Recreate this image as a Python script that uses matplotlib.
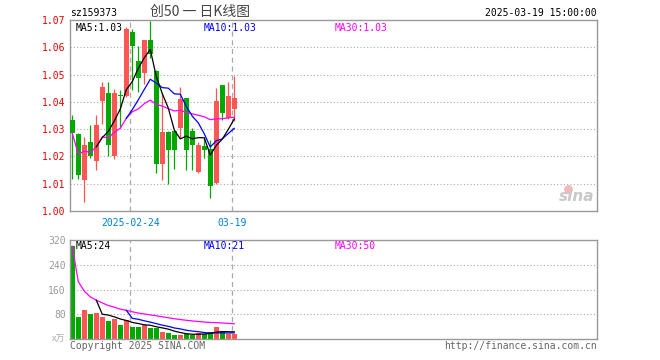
#!/usr/bin/env python3
"""Daily K-line chart for sz159373 with moving averages and volume."""

import matplotlib

matplotlib.use("Agg")
import matplotlib.pyplot as plt
import numpy as np
import pandas as pd


CODE = "sz159373"
TITLE = "创50 一 日K线图"
STAMP = "2025-03-19 15:00:00"

opens = [1.0334, 1.0283, 1.0115, 1.0254, 1.0184, 1.0402, 1.0433, 1.0202, 1.0425, 1.0423,
         1.0657, 1.0548, 1.0505, 1.0625, 1.0513, 1.0173, 1.0291, 1.0292, 1.0303, 1.0413,
         1.0293, 1.0144, 1.0240, 1.0228, 1.0102, 1.0463, 1.0341, 1.0375]
closes = [1.0285, 1.0132, 1.0241, 1.0202, 1.0315, 1.0456, 1.0243, 1.0433, 1.0422, 1.0667,
          1.0606, 1.0487, 1.0625, 1.0575, 1.0173, 1.0291, 1.0223, 1.0224, 1.0410, 1.0224,
          1.0243, 1.0243, 1.0222, 1.0092, 1.0402, 1.0358, 1.0422, 1.0413]
highs = [1.0352, 1.0285, 1.0273, 1.0317, 1.0351, 1.0474, 1.0472, 1.0448, 1.0444, 1.0673,
         1.0667, 1.0604, 1.0627, 1.0695, 1.0515, 1.0432, 1.0293, 1.0293, 1.0454, 1.0415,
         1.0305, 1.0254, 1.0268, 1.0261, 1.0451, 1.0463, 1.0474, 1.0495]
lows = [1.0116, 1.0117, 1.0032, 1.0193, 1.0151, 1.0318, 1.0200, 1.0190, 1.0305, 1.0418,
        1.0445, 1.0436, 1.0466, 1.0560, 1.0140, 1.0112, 1.0099, 1.0155, 1.0269, 1.0152,
        1.0151, 1.0141, 1.0195, 1.0048, 1.0100, 1.0333, 1.0338, 1.0330]
volumes = [299.5, 72.5, 93.8, 80.8, 84.3, 72.5, 58.8, 65.8, 45.8, 60.8,
           40.8, 40.8, 45.8, 38.0, 36.5, 23.0, 20.5, 14.0, 15.0, 17.8,
           14.0, 21.0, 17.8, 23.5, 39.5, 22.8, 17.8, 17.0]

date_ticks = [10, 27]
date_labels = ["2025-02-24", "03-19"]
price_ticks = [1.00, 1.01, 1.02, 1.03, 1.04, 1.05, 1.06, 1.07]
vol_ticks = [80, 160, 240, 320]

RED = "#FF5555"
GREEN = "#00A800"
FRAME = "#999999"
GRID = "#AAAAAA"
MONO = "DejaVu Sans Mono"
CJK = ["Noto Sans CJK SC", "DejaVu Sans"]


def ma_lines(values):
  s = pd.Series(values)
  return (s.rolling(5).mean(), s.rolling(10).mean(),
          s.rolling(30, min_periods=1).mean())


def frame(ax):
  for sp in ax.spines.values():
    sp.set_color(FRAME)
    sp.set_linewidth(1.0)
  ax.tick_params(length=0, pad=3)
  ax.set_xticks([])
  for d in date_ticks:
    ax.axvline(d - 0.33, color=GRID, lw=0.9, ls=(0, (4, 3)), zorder=0)


def main():
  plt.rcParams["font.family"] = MONO
  fig = plt.figure(figsize=(6.6, 3.6), dpi=100)
  ax = fig.add_axes([70 / 660, 1 - 211 / 360, 527 / 660, 191 / 360])
  av = fig.add_axes([70 / 660, 1 - 339.3 / 360, 527 / 660, 99.3 / 360])

  xs = np.arange(len(closes))
  o = np.array(opens)
  c = np.array(closes)
  up = c >= o
  colors = [RED if u else GREEN for u in up]
  xlim = (-0.38, -0.38 + 527 / 6)

  # price pane
  frame(ax)
  ax.set_xlim(*xlim)
  ax.set_ylim(1.00, 1.07)
  ax.set_yticks(price_ticks)
  ax.set_yticklabels([f"{t:.2f}" for t in price_ticks], color="#EE0000", fontsize=7)
  for t in price_ticks[1:-1]:
    ax.axhline(t, color=GRID, lw=0.8, ls=(0, (1, 2)), zorder=0)
  ax.vlines(xs, lows, highs, colors=colors, lw=0.9, zorder=2)
  bottoms = np.minimum(o, c)
  heights = np.maximum(np.abs(c - o), 0.00012)
  ax.bar(xs, heights, bottom=bottoms, width=0.82, color=colors, zorder=3)
  ma5, ma10, ma30 = ma_lines(closes)
  ax.plot(xs, ma30, color="#FF00FF", lw=0.9, zorder=4)
  ax.plot(xs, ma10, color="#0000FF", lw=0.9, zorder=4)
  ax.plot(xs, ma5, color="black", lw=0.9, zorder=4)
  ax.text(0.01, 0.985, f"MA5:{ma5.iloc[-1]:.2f}", transform=ax.transAxes,
          ha="left", va="top", fontsize=7, color="black")
  ax.text(134 / 527, 0.985, f"MA10:{ma10.iloc[-1]:.2f}", transform=ax.transAxes,
          ha="left", va="top", fontsize=7, color="#0000FF")
  ax.text(265 / 527, 0.985, f"MA30:{ma30.iloc[-1]:.2f}", transform=ax.transAxes,
          ha="left", va="top", fontsize=7, color="#FF00FF")
  for d, lab in zip(date_ticks, date_labels):
    ax.text(d - 0.33, -0.035, lab, transform=ax.get_xaxis_transform(),
            ha="center", va="top", fontsize=7, color="#0080D0")
  ax.text(0.995, 0.075, "sina", transform=ax.transAxes, ha="right", va="center",
          fontsize=11, fontweight="bold", style="italic", color="#C8C8C8",
          family="DejaVu Sans")
  ax.scatter([0.945], [0.115], s=28, transform=ax.transAxes, color="#F4B8B8",
             zorder=1, clip_on=False)

  # volume pane
  frame(av)
  av.set_xlim(*xlim)
  av.set_ylim(0, 320)
  av.set_yticks(vol_ticks)
  av.set_yticklabels([str(t) for t in vol_ticks], color=FRAME, fontsize=7)
  for t in vol_ticks[:-1]:
    av.axhline(t, color=GRID, lw=0.8, ls=(0, (1, 2)), zorder=0)
  av.bar(xs, volumes, width=0.82, color=colors, zorder=2)
  v5, v10, v30 = ma_lines(volumes)
  av.plot(xs, v30, color="#FF00FF", lw=0.9, zorder=3)
  av.plot(xs, v10, color="#0000FF", lw=0.9, zorder=3)
  av.plot(xs, v5, color="black", lw=0.9, zorder=3)
  av.text(0.01, 0.985, f"MA5:{v5.iloc[-1]:.0f}", transform=av.transAxes,
          ha="left", va="top", fontsize=7, color="black", zorder=5)
  av.text(134 / 527, 0.985, f"MA10:{v10.iloc[-1]:.0f}", transform=av.transAxes,
          ha="left", va="top", fontsize=7, color="#0000FF")
  av.text(265 / 527, 0.985, f"MA30:{v30.iloc[-1]:.0f}", transform=av.transAxes,
          ha="left", va="top", fontsize=7, color="#FF00FF")
  av.text(-0.008, 0.0, "x万", transform=av.transAxes, ha="right", va="center",
          fontsize=6.5, color="#AAAAAA", family=CJK)

  # header and footer
  fig.text(70 / 660, 1 - 13 / 360, CODE, ha="left", va="center", fontsize=7,
           color="black")
  fig.text(200 / 660, 1 - 12 / 360, TITLE, ha="center", va="center", fontsize=10,
           color="#444444", family=CJK)
  fig.text(597 / 660, 1 - 13 / 360, STAMP, ha="right", va="center", fontsize=7,
           color="black")
  fig.text(70 / 660, 1 - 346 / 360, "Copyright 2025 SINA.COM", ha="left",
           va="center", fontsize=7, color="#666666")
  fig.text(597 / 660, 1 - 346 / 360, "http://finance.sina.com.cn", ha="right",
           va="center", fontsize=7, color="#666666")

  fig.savefig("out.png", dpi=100, facecolor="white")
  plt.close(fig)


if __name__ == "__main__":
  main()
